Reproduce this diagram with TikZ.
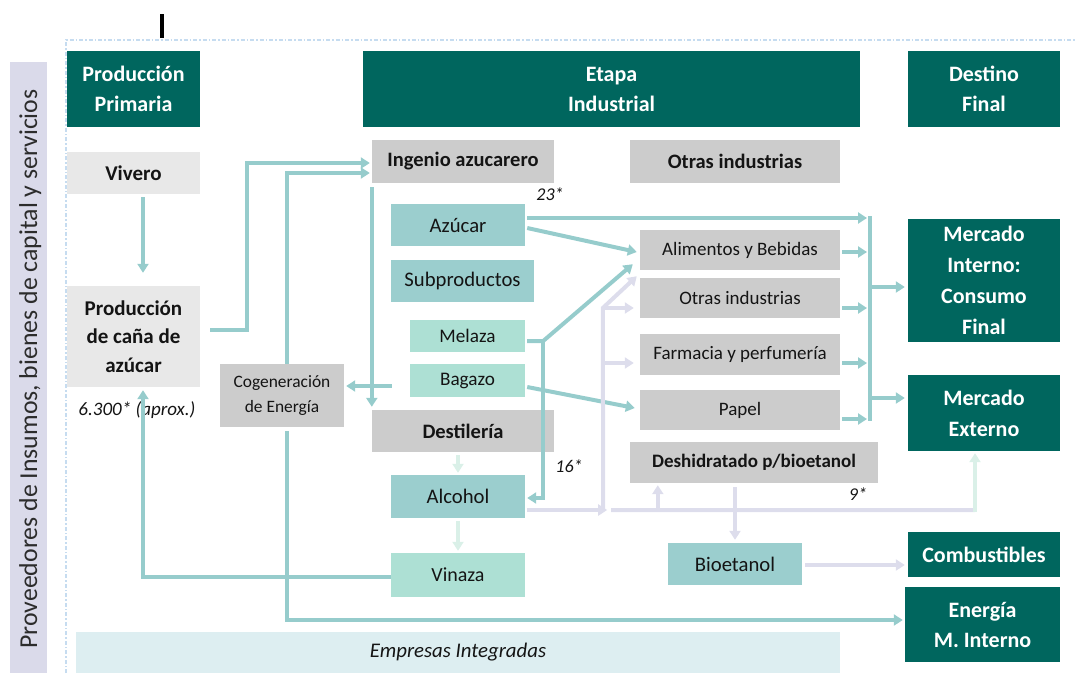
\documentclass[tikz,border=0pt]{standalone}
\usepackage{fontspec}
\setmainfont{Carlito}
\usetikzlibrary{arrows.meta,calc}
\definecolor{hdrc}{RGB}{0,102,94}
\definecolor{grayc}{RGB}{204,204,204}
\definecolor{lgrayc}{RGB}{232,232,232}
\definecolor{tealc}{RGB}{155,206,206}
\definecolor{mintc}{RGB}{173,224,212}
\definecolor{arrc}{RGB}{150,204,204}
\definecolor{lavc}{RGB}{221,221,236}
\definecolor{palec}{RGB}{218,240,232}
\definecolor{emprc}{RGB}{221,238,241}
\definecolor{stripc}{RGB}{218,218,234}
\definecolor{bordc}{RGB}{198,220,240}
\definecolor{txtc}{RGB}{20,20,20}
\begin{document}
\begin{tikzpicture}[x=1pt,y=-1pt,
 box/.style={inner sep=0pt, align=center, text=txtc, font=\fontsize{19}{23}\selectfont},
 sz/.style 2 args={minimum width=#1pt, minimum height=#2pt},
 hdr/.style={box, fill=hdrc, text=white, font=\bfseries\fontsize{22}{30}\selectfont},
 gbox/.style={box, fill=grayc},
 gboxb/.style={gbox, font=\bfseries\fontsize{20.5}{24}\selectfont},
 lbox/.style={box, fill=lgrayc, font=\bfseries\fontsize{21}{28.5}\selectfont},
 tbox/.style={box, fill=tealc, font=\fontsize{20.7}{24}\selectfont},
 mbox/.style={box, fill=mintc, font=\fontsize{19.2}{23}\selectfont},
 lbl/.style={inner sep=0pt, text=txtc, font=\itshape\fontsize{18}{22}\selectfont},
 arr/.style={draw=arrc, line width=4pt, -{Triangle[length=9pt,width=11pt]}},
 lavarr/.style={arr, draw=lavc},
 palearr/.style={arr, draw=palec},
 tline/.style={draw=arrc, line width=4pt},
 lavline/.style={draw=lavc, line width=4pt},
]
\useasboundingbox (0,0) rectangle (1076,673);

% frame
\node[fill=stripc, sz={37}{611}, inner sep=0pt] (strip) at (28.5,367.5) {};
\node[rotate=90, anchor=base, inner sep=0pt, text=txtc!90, font=\fontsize{25.8}{28}\selectfont] (striptxt) at (37,369) {Proveedores de Insumos, bienes de capital y servicios};
\draw[bordc, line width=1.5pt, dash pattern=on 4pt off 2pt on 1.5pt off 2pt] (66,673) -- (66,40) -- (1076,40);
\draw[line width=4pt] (162,14) -- (162,38);

% headers
\node[hdr, sz={133}{76}] (hPP) at (133.5,89) {Producción\\Primaria};
\node[hdr, sz={497}{76}] (hEI) at (611.5,89) {Etapa\\Industrial};
\node[hdr, sz={152}{76}] (hDF) at (984,89) {Destino\\Final};

% primary
\node[lbox, sz={133}{42}] (vivero) at (133.5,173) {Vivero};
\node[lbox, sz={133}{101}] (prod) at (133.5,336.5) {Producción\\de caña de\\azúcar};
\node[lbl, font=\itshape\fontsize{19}{22}\selectfont] (l6300) at (137,410) {6.300* (aprox.)};

% industrial
\node[gboxb, sz={182}{43}] (ingenio) at (463,161.5) {Ingenio azucarero};
\node[gboxb, sz={210}{43}] (otras1) at (735,161.5) {Otras industrias};
\node[tbox, sz={134}{42}] (azucar) at (458,225) {Azúcar};
\node[tbox, sz={143}{42}] (subprod) at (462.5,281) {Subproductos};
\node[mbox, sz={115}{32}] (melaza) at (467.5,336) {Melaza};
\node[mbox, sz={115}{33}] (bagazo) at (467.5,380.5) {Bagazo};
\node[gboxb, sz={182}{42}] (destil) at (463,431) {Destilería};
\node[tbox, sz={134}{43}] (alcohol) at (458,496.5) {Alcohol};
\node[mbox, sz={134}{44}, font=\fontsize{20}{23}\selectfont] (vinaza) at (458,575) {Vinaza};
\node[gbox, sz={124}{63}, font=\fontsize{17.4}{25}\selectfont] (cogen) at (282,395.5) {Cogeneración\\de Energía};
\node[gbox, sz={200}{40}] (alim) at (740,250) {Alimentos y Bebidas};
\node[gbox, sz={200}{40}] (otras2) at (740,298) {Otras industrias};
\node[gbox, sz={200}{41}] (farm) at (740,354.5) {Farmacia y perfumería};
\node[gbox, sz={200}{40}] (papel) at (740,410) {Papel};
\node[gboxb, sz={248}{41}, font=\bfseries\fontsize{19}{23}\selectfont] (deshid) at (754,462.5) {Deshidratado p/bioetanol};
\node[tbox, sz={134}{42}] (bioet) at (735,564) {Bioetanol};
\node[box, fill=emprc, sz={764}{41}, font=\itshape\fontsize{20.8}{24}\selectfont] (empr) at (458,652.5) {Empresas Integradas};

\node[lbl] (l23) at (550,194) {23*};
\node[lbl] (l16) at (569,466) {16*};
\node[lbl] (l9) at (858,494) {9*};

% destino
\node[hdr, sz={152}{123}, font=\bfseries\fontsize{22}{31}\selectfont] (mint) at (984,280.5) {Mercado\\Interno:\\Consumo\\Final};
\node[hdr, sz={152}{76}, font=\bfseries\fontsize{22}{31}\selectfont] (mext) at (984,413) {Mercado\\Externo};
\node[hdr, sz={152}{45}] (comb) at (984,554.5) {Combustibles};
\node[hdr, sz={155}{75}] (energ) at (982.5,624.5) {Energía\\M. Interno};

% teal connectors
\draw[arr] ($(vivero.south)+(9.5,3)$) -- ($(prod.north)+(9.5,-13)$);
\draw[arr] ($(prod.east)+(10,-6.5)$) -- ++(37,0) |- ($(ingenio.west)+(-2,1.5)$);
\draw[arr] ($(cogen.north)+(5,0)$) |- ($(ingenio.west)+(-2,11.5)$);
\draw[arr] ($(ingenio.south west)+(0,4)$) -- ($(destil.north west)+(0,-3)$);
\coordinate (bagL) at ($(bagazo.west)+(-18,5.5)$);
\draw[arr] (bagL) -- ($(bagL -| cogen.east)+(2,0)$);
\draw[arr] ($(cogen.south)+(5,4)$) |- ($(energ.west)+(-2,-4.5)$);
\draw[arr] ($(vinaza.west)+(0,2)$) -| ($(prod.south)+(9.5,3)$);

\coordinate (bt) at (870,218);
\coordinate (bb) at (870,421);
\draw[tline] ($(bt)+(0,-2)$) -- (bb);
\draw[arr] ($(azucar.east)+(2,-7)$) -- ($(bt)+(-3,0)$);
\draw[arr] ($(azucar.east)+(2,3)$) -- ($(alim.west)+(-3,2)$);
\coordinate (melJ) at ($(melaza.east)+(18,5)$);
\draw[arr] ($(melaza.east)+(2,5)$) -- (melJ) -- ($(alim.south west)+(-7,-6)$);
\draw[arr] (melJ) |- ($(alcohol.east)+(2,1.5)$);
\draw[arr] ($(bagazo.east)+(2,6.5)$) -- ($(papel.west)+(-5,-2)$);

\draw[arr] ($(alim.east)+(2,2)$) -- ($(bt |- alim.east)+(-3,2)$);
\draw[arr] ($(otras2.east)+(2,10)$) -- ($(bt |- otras2.east)+(-3,10)$);
\draw[arr] ($(farm.east)+(2,8.5)$) -- ($(bt |- farm.east)+(-3,8.5)$);
\draw[arr] ($(papel.east)+(2,9)$) -- ($(bt |- papel.east)+(-3,9)$);
\draw[arr] ($(bt |- mint.west)+(0,6.5)$) -- ($(mint.west)+(-3,6.5)$);
\draw[arr] ($(bt |- mext.west)+(0,-15)$) -- ($(mext.west)+(-3,-15)$);

% pale connectors
\draw[palearr] ($(destil.south)+(-5,3)$) -- ($(alcohol.north)+(0,-2)$);
\draw[palearr] ($(alcohol.south)+(0,3)$) -- ($(vinaza.north)+(0,-2)$);

% lavender connectors
\coordinate (busB) at ($(alcohol.east)+(78,13.5)$);
\coordinate (busT) at ($(otras2.west)+(-37,10)$);
\draw[lavarr] ($(alcohol.east)+(2,13.5)$) -- ($(busB)+(4,0)$);
\draw[lavarr] (busB) -- (busT) -- ($(alim.south west)+(-3,6)$);
\draw[lavarr] (busT) -- ($(otras2.west)+(-6,10)$);
\draw[lavarr] ($(busT |- farm.west)+(0,8.5)$) -- ($(farm.west)+(-6,8.5)$);
\coordinate (busR) at ($(busB)+(8,0)$);
\coordinate (extC) at ($(mext.south)+(-9,59)$);
\draw[lavline] (busR) -- (extC);
\draw[palearr] ($(extC)+(0,2)$) -- ($(mext.south)+(-9,2)$);
\draw[lavarr] ($(busR -| deshid.south west)+(28,0)$) -- ($(deshid.south west)+(28,2)$);
\draw[lavarr] ($(deshid.south)+(-19,4)$) -- ($(bioet.north)+(0,-3)$);
\draw[lavarr] ($(bioet.east)+(3,1)$) -- ($(comb.west)+(-3,10.5)$);
\end{tikzpicture}
\end{document}
